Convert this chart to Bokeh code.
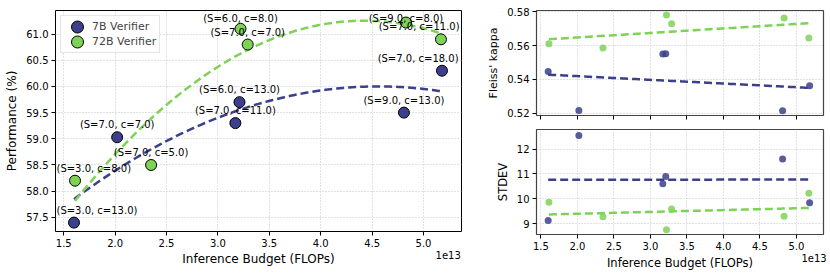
import numpy as np
from bokeh.plotting import figure
from bokeh.models import (FixedTicker, Legend, LegendItem, Range1d, NumeralTickFormatter,
                          CustomJSTickFormatter, LinearAxis)
from bokeh.layouts import row, column
from bokeh.embed import file_html
from bokeh.resources import INLINE

FONT = "DejaVu Sans"
C7 = "#3B3F8C"
C72 = "#7ED257"

# ---------------- data ----------------
s_7b = [3, 7, 6, 7, 9, 7]
c_7b = [13, 7, 13, 11, 13, 18]
budget_7b = [1.60, 2.02, 3.21, 3.17, 4.81, 5.18]      # x 1e13 FLOPs
perf_7b = [57.40, 59.03, 59.70, 59.30, 59.50, 60.30]
kappa_7b = [0.5446, 0.5216, 0.5552, 0.5550, 0.5214, 0.5362]
stdev_7b = [9.12, 12.55, 10.90, 10.60, 11.60, 9.84]

s_72b = [3, 7, 6, 7, 9, 7]
c_72b = [8, 5, 8, 7, 8, 11]
budget_72b = [1.61, 2.35, 3.22, 3.29, 4.83, 5.17]     # x 1e13 FLOPs
perf_72b = [58.20, 58.50, 61.10, 60.80, 61.22, 60.90]
kappa_72b = [0.5611, 0.5586, 0.5782, 0.5729, 0.5763, 0.5645]
stdev_72b = [9.86, 9.28, 8.75, 9.59, 9.30, 10.22]

series_names = ["7B Verifier", "72B Verifier"]
x_ticks = [1.5, 2.0, 2.5, 3.0, 3.5, 4.0, 4.5, 5.0]
perf_ticks = [57.5, 58.0, 58.5, 59.0, 59.5, 60.0, 60.5, 61.0]
kappa_ticks = [0.52, 0.54, 0.56, 0.58]
stdev_ticks = [9, 10, 11, 12]
x_label = "Inference Budget (FLOPs)"
x_scale_text = "1e13"

# approximate DejaVu Sans advance widths (em) used to keep labels inside the frame
ADV = {"(": 0.390, ")": 0.390, "S": 0.635, "=": 0.838, ".": 0.318, ",": 0.318,
       " ": 0.318, "c": 0.550}


def text_width(t, size=10.0):
    return sum(ADV.get(ch, 0.636) for ch in t) * size


def fit(x, y, deg):
    coef = np.polyfit(x, y, deg)
    xs = np.linspace(min(x), max(x), 120)
    return xs, np.polyval(coef, xs)


def bare_axis(ax, standoff, size="10px"):
    ax.major_tick_out = 0
    ax.major_tick_in = 0
    ax.minor_tick_out = 0
    ax.minor_tick_in = 0
    ax.axis_line_color = None
    ax.major_label_standoff = standoff
    ax.major_label_text_font = FONT
    ax.major_label_text_font_size = size
    ax.major_label_text_color = "black"


def style(p, yt, yfmt, outline_color, outline_width=1.0, label_size="12px"):
    p.xaxis.ticker = FixedTicker(ticks=x_ticks)
    p.yaxis.ticker = FixedTicker(ticks=yt)
    p.xaxis.formatter = NumeralTickFormatter(format="0.0")
    p.yaxis.formatter = NumeralTickFormatter(format=yfmt)
    for ax in p.xaxis + p.yaxis:
        ax.major_tick_out = 4
        ax.major_tick_in = 0
        ax.minor_tick_out = 0
        ax.minor_tick_in = 0
        ax.major_tick_line_color = "black"
        ax.axis_line_color = None
        ax.major_label_standoff = 3
        ax.axis_label_standoff = 4
        ax.major_label_text_font = FONT
        ax.major_label_text_font_size = "10px"
        ax.major_label_text_color = "black"
        ax.axis_label_text_font = FONT
        ax.axis_label_text_font_size = label_size
        ax.axis_label_text_font_style = "normal"
        ax.axis_label_text_color = "black"
    p.grid.grid_line_color = "#c4c4c4"
    p.grid.grid_line_dash = "1 2"
    p.grid.grid_line_width = 1
    p.outline_line_color = outline_color
    p.outline_line_width = outline_width
    p.background_fill_color = "white"
    p.border_fill_color = "white"


def scale_axis(p, xr, size, standoff):
    # extra axis under the x axis: "1e13" multiplier as its tick label,
    # with the axis title pulled up into the same row
    ax = LinearAxis(ticker=FixedTicker(ticks=[xr.end - 0.13]))
    ax.formatter = CustomJSTickFormatter(args=dict(t=x_scale_text), code="return t;")
    bare_axis(ax, 1)
    ax.axis_label = x_label
    ax.axis_label_text_font = FONT
    ax.axis_label_text_font_size = size
    ax.axis_label_text_font_style = "normal"
    ax.axis_label_text_color = "black"
    ax.axis_label_standoff = standoff
    p.add_layout(ax, "below")


# ---------------- left: performance ----------------
L_W, L_H, L_BL, L_BR, L_BT, L_BB = 470, 274, 55, 9, 10, 43
xr_left = Range1d(1.42, 5.37)
yr_left = Range1d(57.23, 61.45)
p = figure(width=L_W, height=L_H, x_range=xr_left, y_range=yr_left,
           output_backend="svg", toolbar_location=None,
           min_border_left=L_BL, min_border_right=L_BR, min_border_top=L_BT, min_border_bottom=L_BB)
style(p, perf_ticks, "0.0", "black")
p.yaxis.axis_label = "Performance (%)"
scale_axis(p, xr_left, "12px", -10)

renderers = []
for xs_, ys_, col in [(budget_7b, perf_7b, C7), (budget_72b, perf_72b, C72)]:
    fx, fy = fit(xs_, ys_, 2)
    p.line(fx, fy, line_color=col, line_width=2.5, line_dash="8 4")
    r = p.ellipse(xs_, ys_, width=11, height=11, width_units="screen", height_units="screen",
                  fill_color=col, line_color="black", line_width=1)
    renderers.append(r)

# point annotations: one label-only axis pinned at each point, text centred above it;
# labels are nudged so they never cross the left or top edge of the frame
px_per_x = (L_W - L_BL - L_BR) / (xr_left.end - xr_left.start)
px_per_y = (L_H - L_BT - L_BB) / (yr_left.end - yr_left.start)
STANDOFF, TEXT_H = 7, 12
for xs_, ys_, ss, cc in [(budget_7b, perf_7b, s_7b, c_7b),
                         (budget_72b, perf_72b, s_72b, c_72b)]:
    for xv, yv, s, c in zip(xs_, ys_, ss, cc):
        lab = f"(S={s:.1f}, c={c:.1f})"
        half = text_width(lab) / 2 + 1
        x_anchor = max(xv, xr_left.start + half / px_per_x)
        y_anchor = min(yv, yr_left.end - (STANDOFF + TEXT_H + 1) / px_per_y)
        ax = LinearAxis(fixed_location=y_anchor, ticker=FixedTicker(ticks=[x_anchor]))
        ax.formatter = CustomJSTickFormatter(args=dict(t=lab), code="return t;")
        bare_axis(ax, STANDOFF)
        p.add_layout(ax, "above")

legend = Legend(items=[LegendItem(label=series_names[0], renderers=[renderers[0]]),
                       LegendItem(label=series_names[1], renderers=[renderers[1]])],
                location="top_left")
legend.label_text_font = FONT
legend.label_text_font_size = "11px"
legend.glyph_width = 26
legend.glyph_height = 15
legend.label_height = 15
legend.label_standoff = 2
legend.spacing = 0
legend.padding = 3
legend.margin = 5
legend.border_line_color = "#cccccc"
legend.background_fill_alpha = 0.85
p.add_layout(legend)

# ---------------- right top: kappa ----------------
xr_right = Range1d(1.44, 5.37)
pk = figure(width=360, height=127, x_range=xr_right, y_range=Range1d(0.5186, 0.5808),
            output_backend="svg", toolbar_location=None,
            min_border_left=66, min_border_right=7, min_border_top=10, min_border_bottom=12)
style(pk, kappa_ticks, "0.00", "#444444", 1.2, "11px")
pk.yaxis.axis_label = "Fleiss' kappa"
pk.xaxis.formatter = CustomJSTickFormatter(code="return '';")
pk.xaxis.major_label_standoff = 0

# ---------------- right bottom: stdev ----------------
ps = figure(width=360, height=147, x_range=xr_right, y_range=Range1d(8.56, 12.79),
            output_backend="svg", toolbar_location=None,
            min_border_left=66, min_border_right=7, min_border_top=2, min_border_bottom=40)
style(ps, stdev_ticks, "0", "#444444", 1.2, "11.5px")
ps.yaxis.axis_label = "STDEV"
scale_axis(ps, xr_right, "11.5px", -9)

for fig, y7, y72 in [(pk, kappa_7b, kappa_72b), (ps, stdev_7b, stdev_72b)]:
    for xs_, ys_, col in [(budget_7b, y7, C7), (budget_72b, y72, C72)]:
        fig.scatter(xs_, ys_, size=7, fill_color=col, line_color=None, fill_alpha=0.85)
        fx, fy = fit(xs_, ys_, 1)
        fig.line(fx, fy, line_color=col, line_width=2.5, line_dash="8 4")

layout = row(p, column(pk, ps))
open("out.html", "w").write(file_html(layout, INLINE))
